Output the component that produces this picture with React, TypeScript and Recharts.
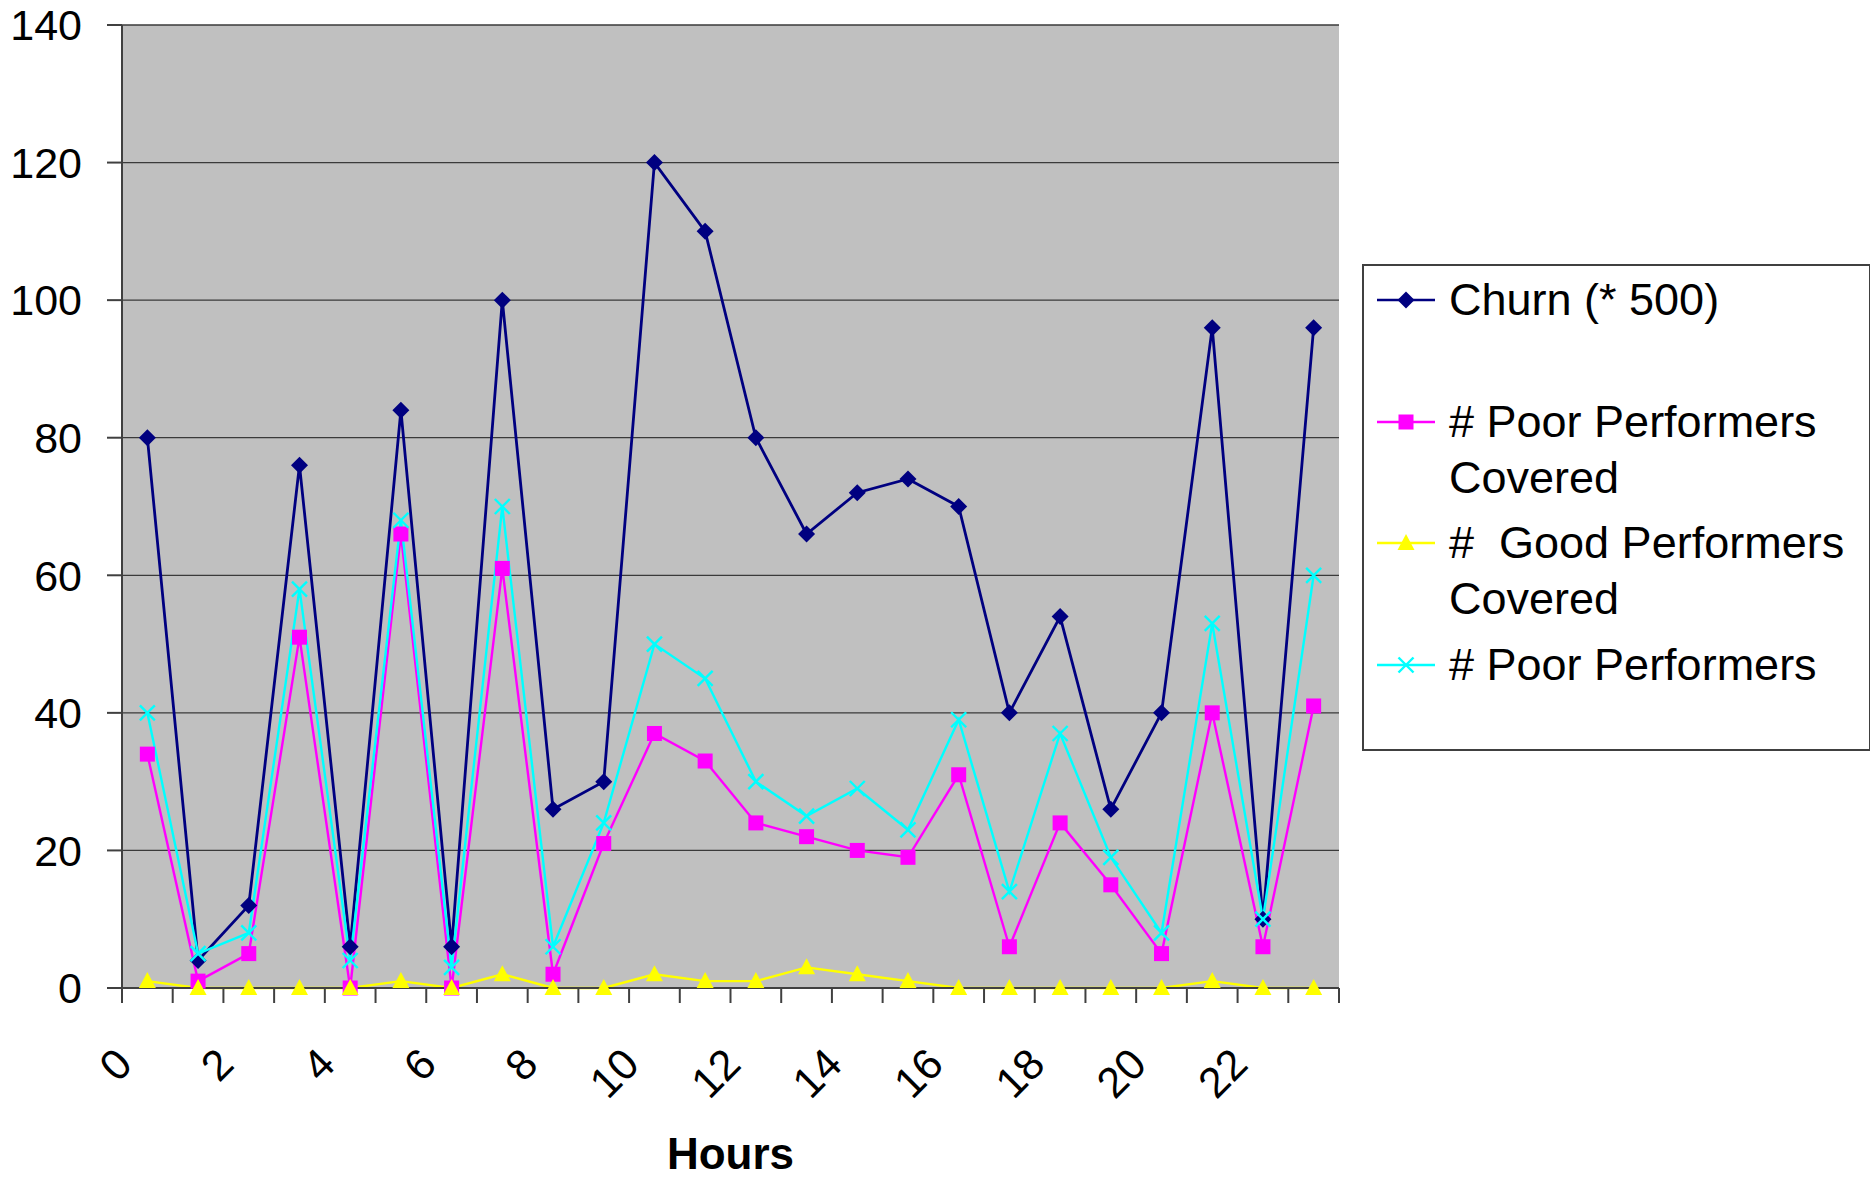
import React from "react";
import { LineChart, Line, XAxis, YAxis, CartesianGrid, ReferenceArea } from "recharts";

// hour of day (category axis)
const HOURS = ["0", "1", "2", "3", "4", "5", "6", "7", "8", "9", "10", "11", "12", "13", "14", "15", "16", "17", "18", "19", "20", "21", "22", "23"];
const LABELED_HOURS = ["0", "2", "4", "6", "8", "10", "12", "14", "16", "18", "20", "22"];

// series values
const CHURN = [80, 4, 12, 76, 6, 84, 6, 100, 26, 30, 120, 110, 80, 66, 72, 74, 70, 40, 54, 26, 40, 96, 10, 96];
const POOR_COVERED = [34, 1, 5, 51, 0, 66, 0, 61, 2, 21, 37, 33, 24, 22, 20, 19, 31, 6, 24, 15, 5, 40, 6, 41];
const GOOD_COVERED = [1, 0, 0, 0, 0, 1, 0, 2, 0, 0, 2, 1, 1, 3, 2, 1, 0, 0, 0, 0, 0, 1, 0, 0];
const POOR = [40, 5, 8, 58, 4, 68, 3, 70, 6, 24, 50, 45, 30, 25, 29, 23, 39, 14, 37, 19, 8, 53, 10, 60];

const Y_TICKS = [0, 20, 40, 60, 80, 100, 120, 140];

const FONT = "'Liberation Sans', Arial, Helvetica, sans-serif";
const BAND = 1217 / HOURS.length;

const data = HOURS.map((hour, i) => ({
  hour,
  churn: CHURN[i],
  poorCovered: POOR_COVERED[i],
  goodCovered: GOOD_COVERED[i],
  poor: POOR[i],
}));

type Shape = "diamond" | "square" | "triangle" | "cross";

const SERIES: { key: string; name: string; color: string; shape: Shape; width: number }[] = [
  { key: "churn", name: "Churn (* 500)", color: "#000080", shape: "diamond", width: 2.8 },
  { key: "poorCovered", name: "# Poor Performers Covered", color: "#FF00FF", shape: "square", width: 2.4 },
  { key: "goodCovered", name: "#  Good Performers Covered", color: "#FFFF00", shape: "triangle", width: 2.4 },
  { key: "poor", name: "# Poor Performers", color: "#00FFFF", shape: "cross", width: 2.4 },
];

function Marker({ cx, cy, shape, color }: { cx: number; cy: number; shape: Shape; color: string }) {
  if (shape === "diamond") {
    return <polygon points={`${cx},${cy - 8.5} ${cx + 8.5},${cy} ${cx},${cy + 8.5} ${cx - 8.5},${cy}`} fill={color} />;
  }
  if (shape === "square") {
    return <rect x={cx - 7.5} y={cy - 7.5} width={15} height={15} fill={color} />;
  }
  if (shape === "triangle") {
    return <polygon points={`${cx},${cy - 9} ${cx + 8.5},${cy + 7} ${cx - 8.5},${cy + 7}`} fill={color} />;
  }
  return (
    <g stroke={color} strokeWidth={2.4}>
      <line x1={cx - 7.5} y1={cy - 7.5} x2={cx + 7.5} y2={cy + 7.5} />
      <line x1={cx - 7.5} y1={cy + 7.5} x2={cx + 7.5} y2={cy - 7.5} />
    </g>
  );
}

// category ticks sit on the band edges, labels every second hour
function HourTick(props: any) {
  const { x, y, payload, index } = props;
  const half = BAND / 2;
  const showLabel = LABELED_HOURS.includes(payload.value);
  return (
    <g>
      <line x1={x - half} y1={y} x2={x - half} y2={y + 15} stroke="#404040" strokeWidth={2} />
      {index === HOURS.length - 1 && (
        <line x1={x + half} y1={y} x2={x + half} y2={y + 15} stroke="#404040" strokeWidth={2} />
      )}
      {showLabel && (
        <text
          transform={`translate(${x - 23.5},${y + 68}) rotate(-45)`}
          textAnchor="end"
          dominantBaseline="central"
          fontSize={43}
          fontFamily={FONT}
          fill="#000"
        >
          {payload.value}
        </text>
      )}
    </g>
  );
}

function LegendBox() {
  return (
    <div
      style={{
        position: "absolute",
        left: 1362,
        top: 264,
        width: 505,
        height: 483,
        border: "2px solid #404040",
        background: "#fff",
        fontFamily: FONT,
        fontSize: 45,
        color: "#000",
      }}
    >
      {SERIES.map((s, i) => (
        <div key={s.key} style={{ position: "absolute", left: 0, top: 6 + 121.5 * i, width: 505 }}>
          <svg width={80} height={56} style={{ position: "absolute", left: 0, top: 0 }}>
            <line x1={13} y1={28} x2={71} y2={28} stroke={s.color} strokeWidth={2.5} />
            <Marker cx={42} cy={28} shape={s.shape} color={s.color} />
          </svg>
          <div style={{ position: "absolute", left: 85, top: 0, width: 418, lineHeight: "56px", whiteSpace: "pre-wrap" }}>
            {s.name}
          </div>
        </div>
      ))}
    </div>
  );
}

export default function App() {
  return (
    <div style={{ position: "absolute", left: 0, top: 0, width: 1870, height: 1178, background: "#fff", fontFamily: FONT }}>
      <LineChart width={1870} height={1178} data={data} margin={{ top: 25, right: 531, bottom: 0, left: 0 }}>
        <CartesianGrid horizontal vertical={false} fill="#C0C0C0" stroke="#3a3a3a" strokeWidth={1.3} />
        <ReferenceArea fill="none" stroke="#808080" strokeWidth={2} />
        <XAxis
          dataKey="hour"
          scale="band"
          interval={0}
          tickSize={0}
          tickMargin={0}
          tickLine={false}
          axisLine={{ stroke: "#404040", strokeWidth: 2 }}
          tick={<HourTick />}
          height={190}
          label={{
            value: "Hours",
            position: "insideBottom",
            offset: 9,
            style: { fontSize: 44, fontWeight: 700, fontFamily: FONT, fill: "#000" },
          }}
        />
        <YAxis
          domain={[0, 140]}
          ticks={Y_TICKS}
          width={122}
          tickSize={15}
          tickMargin={25}
          interval={0}
          axisLine={{ stroke: "#404040", strokeWidth: 2 }}
          tickLine={{ stroke: "#404040", strokeWidth: 2 }}
          tick={{ fontSize: 43, fontFamily: FONT, fill: "#000" }}
        />
        {SERIES.map((s) => (
          <Line
            key={s.key}
            dataKey={s.key}
            name={s.name}
            type="linear"
            stroke={s.color}
            strokeWidth={s.width}
            isAnimationActive={false}
            activeDot={false}
            dot={(p: any) => <Marker key={`${s.key}-${p.index}`} cx={p.cx} cy={p.cy} shape={s.shape} color={s.color} />}
          />
        ))}
      </LineChart>
      <LegendBox />
    </div>
  );
}
